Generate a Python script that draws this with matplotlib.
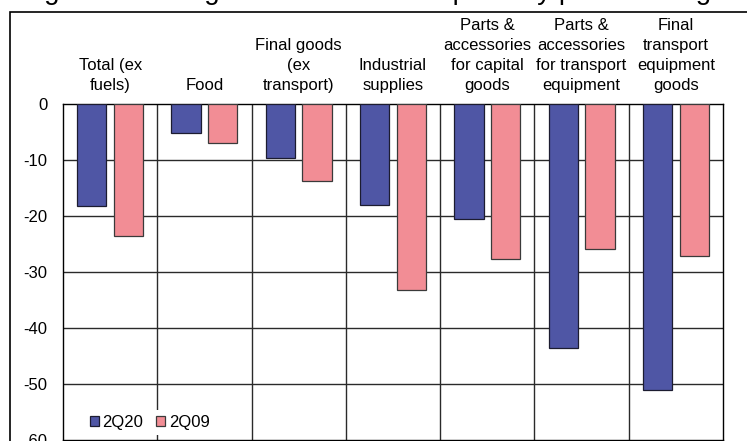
import matplotlib
matplotlib.use("Agg")
from matplotlib import pyplot as plt
from matplotlib.patches import Rectangle
import numpy as np

plt.rcParams["font.family"] = ["Liberation Sans", "DejaVu Sans"]

CATEGORIES = [
    "Total (ex\nfuels)",
    "Food",
    "Final goods\n(ex\ntransport)",
    "Industrial\nsupplies",
    "Parts &\naccessories\nfor capital\ngoods",
    "Parts &\naccessories\nfor transport\nequipment",
    "Final\ntransport\nequipment\ngoods",
]
Q2_2020 = [-18.2, -5.2, -9.7, -18.1, -20.5, -43.6, -51.1]
Q2_2009 = [-23.6, -6.9, -13.8, -33.2, -27.7, -25.9, -27.1]
SERIES_NAMES = ["2Q20", "2Q09"]
Y_TICKS = [0, -10, -20, -30, -40, -50, -60]

BLUE = "#4f56a5"
PINK = "#f28d95"


def draw_chart(out_path: str) -> None:
    fig = plt.figure(figsize=(7.47, 4.41), dpi=100)
    ax = fig.add_axes([63 / 747, 1 / 441, 660 / 747, 336 / 441])

    x = np.arange(len(CATEGORIES))
    width = 0.31
    ax.bar(x - 0.195, Q2_2020, width, color=BLUE, edgecolor="#1c1c30",
           linewidth=0.9, label=SERIES_NAMES[0], zorder=3)
    ax.bar(x + 0.195, Q2_2009, width, color=PINK, edgecolor="#3a3a3a",
           linewidth=0.9, label=SERIES_NAMES[1], zorder=3)

    ax.set_xlim(-0.5, len(CATEGORIES) - 0.5)
    ax.set_ylim(-60, 0)

    # grid: horizontal every 10, vertical between categories
    for y in Y_TICKS[1:-1]:
        ax.axhline(y, color="#2a2a2a", linewidth=1.0, zorder=1)
    for xv in x[:-1] + 0.5:
        ax.axvline(xv, color="#2a2a2a", linewidth=1.0, zorder=1)

    ax.xaxis.tick_top()
    ax.set_xticks(x)
    ax.set_xticklabels(CATEGORIES, fontsize=12, linespacing=1.4)
    ax.tick_params(axis="x", length=0, pad=8)
    ax.set_yticks(Y_TICKS)
    ax.set_yticklabels([str(v) for v in Y_TICKS], fontsize=12)
    ax.tick_params(axis="y", length=0, pad=11)
    for spine in ax.spines.values():
        spine.set_color("black")
        spine.set_linewidth(1.0)

    leg = ax.legend(loc="center left", bbox_to_anchor=(0.02, 0.052), ncol=2,
                    fontsize=12, frameon=True, handlelength=0.55,
                    handleheight=0.55, handletextpad=0.2, columnspacing=0.8,
                    borderpad=0.3, fancybox=False)
    leg.get_frame().set_facecolor("white")
    leg.get_frame().set_edgecolor("none")
    leg.get_frame().set_alpha(1.0)
    leg.set_zorder(5)

    # outer frame running off the right and bottom edges
    fig.patches.append(Rectangle((10 / 747, -0.2), 1.0, 1.2 - 12 / 441,
                                 transform=fig.transFigure, fill=False,
                                 edgecolor="black", linewidth=1.2))

    # chart title, mostly cut off by the top edge
    fig.text(0.5, 1 + 1 / 441,
             "Figure 4: Change in value of US imports by product stage",
             ha="center", va="baseline", fontsize=20)

    fig.savefig(out_path, dpi=100)


if __name__ == "__main__":
    draw_chart("out.png")
